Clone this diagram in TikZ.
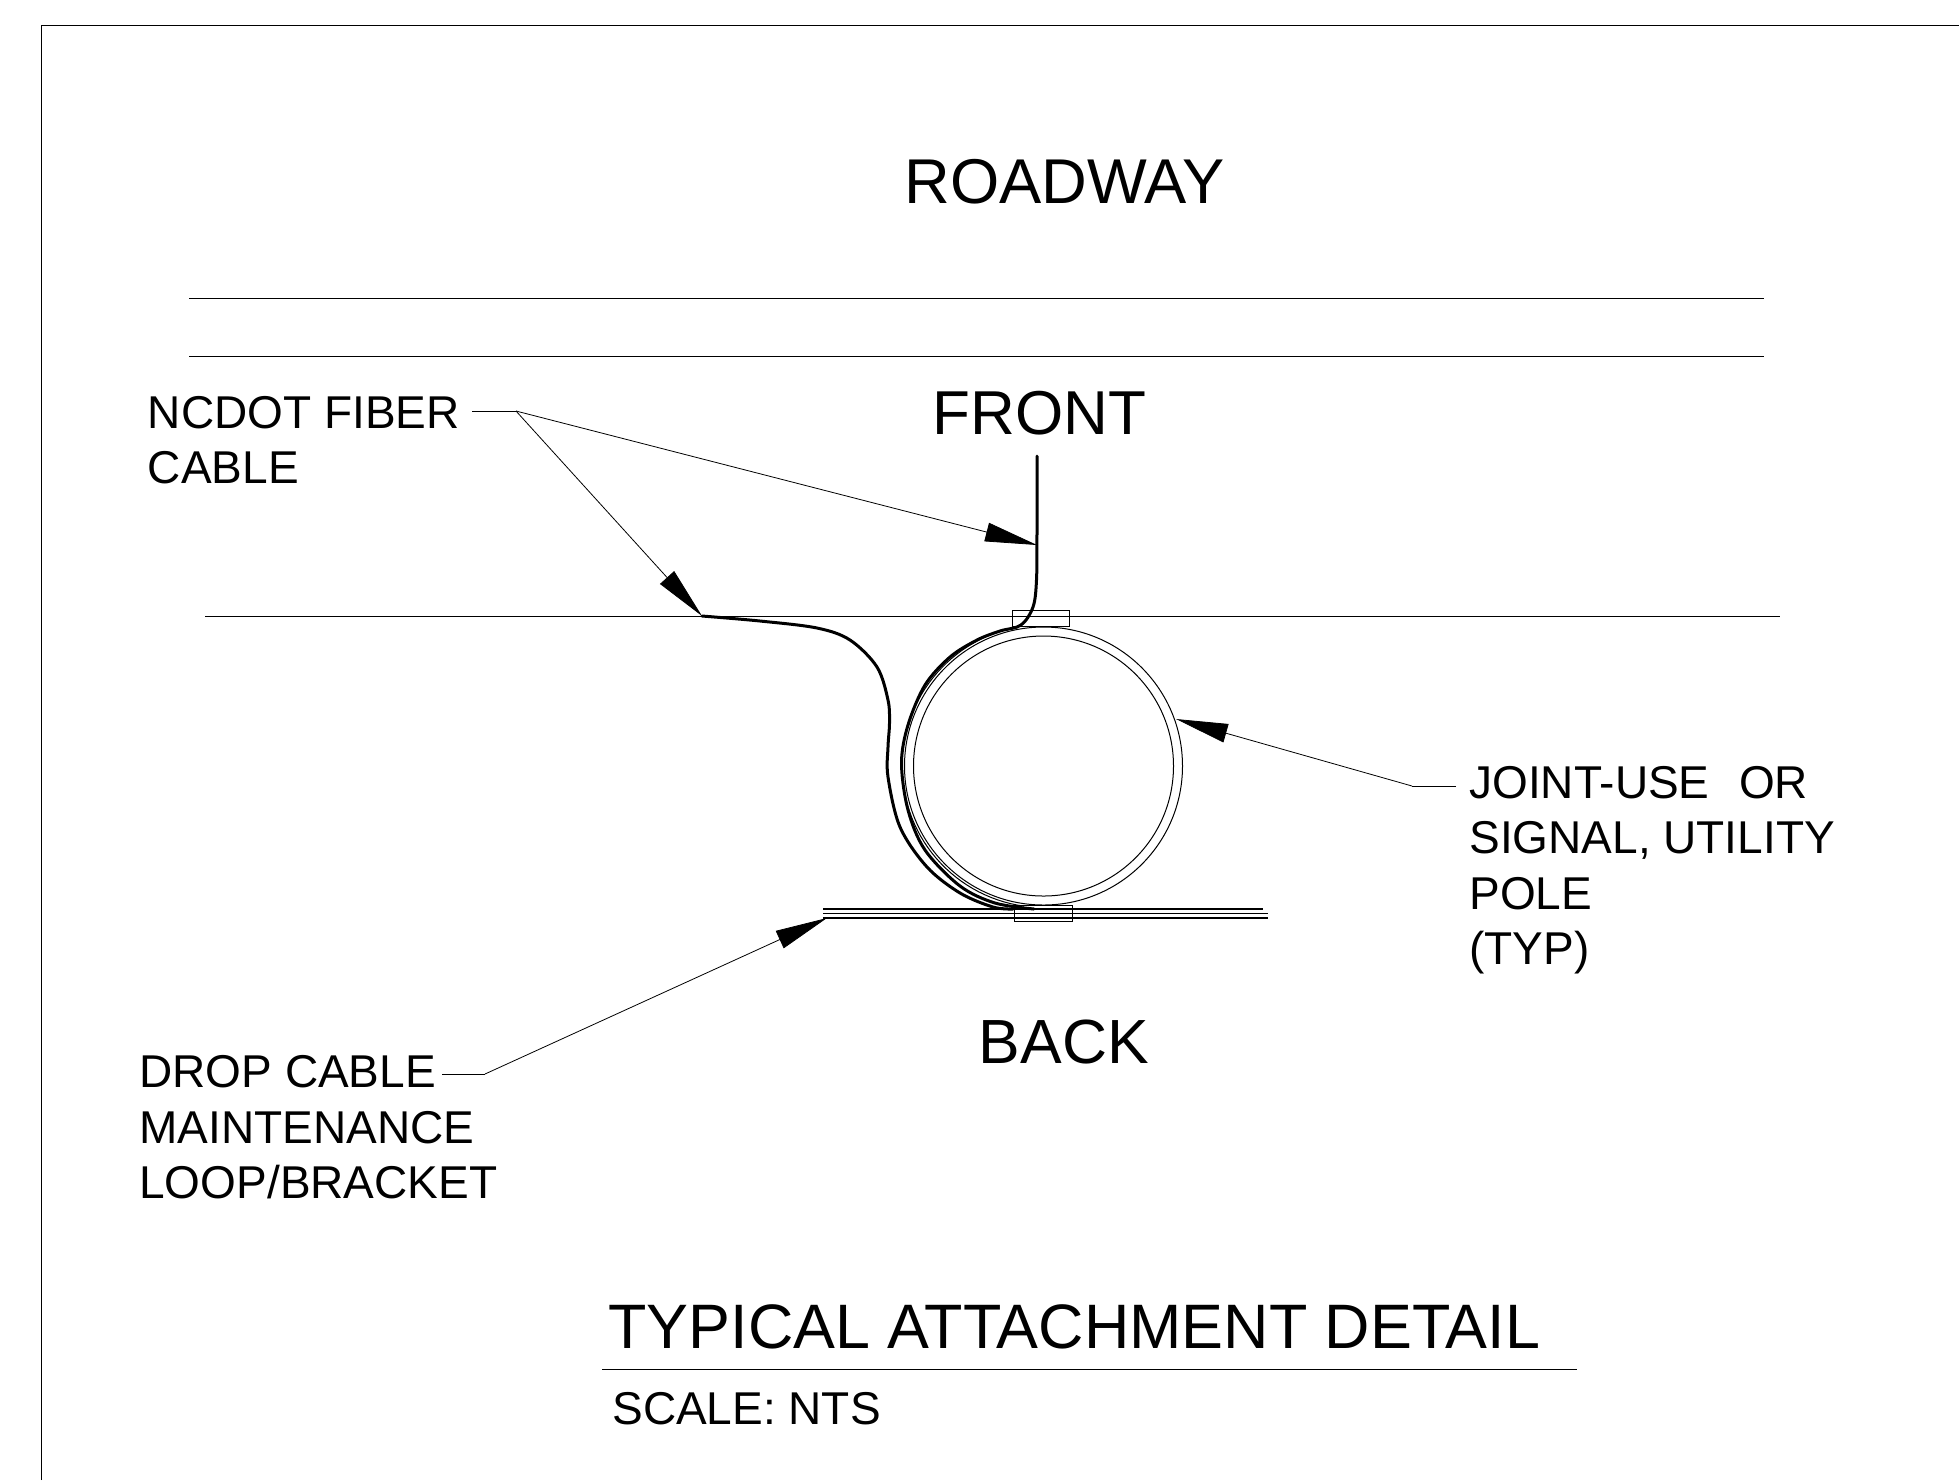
\documentclass[tikz,border=0pt]{standalone}
\usepackage{fontspec}
\setmainfont{Liberation Sans}
\usetikzlibrary{arrows.meta}
\tikzset{
  thinline/.style={draw=black,line width=0.5pt},
  roadline/.style={draw=black,line width=0.5pt},
  edgeline/.style={draw=black,line width=0.75pt},
  bracketline/.style={draw=black,line width=0.8pt},
  cableline/.style={draw=black,line width=1.5pt,line cap=round,line join=round},
  leader/.style={draw=black,line width=0.4pt,-{Triangle[length=26pt,width=9.5pt]}},
  callout/.style={anchor=north west,inner sep=0pt,align=left,font=\fontsize{23}{27.75}\selectfont},
  heading/.style={anchor=base west,inner sep=0pt,font=\fontsize{31}{36}\selectfont},
  backhead/.style={anchor=base west,inner sep=0pt,font=\fontsize{31.2}{36}\selectfont},
  roadhead/.style={anchor=base west,inner sep=0pt,font=\fontsize{31.65}{36}\selectfont},
  titletext/.style={anchor=base west,inner sep=0pt,font=\fontsize{31.4}{36}\selectfont},
  scaletext/.style={anchor=base west,inner sep=0pt,font=\fontsize{23}{27}\selectfont}
}
\begin{document}
\begin{tikzpicture}[x=0.5pt,y=-0.5pt]
\useasboundingbox (0,0) rectangle (1959,1480);
% sheet border
\draw[thinline] (41.5,1480) -- (41.5,25.5) -- (1959,25.5);
% road and edge lines
\draw[roadline] (189,298.5) -- (1764,298.5);
\draw[roadline] (189,356.5) -- (1764,356.5);
\draw[edgeline] (205,616.7) -- (1780,616.7);
% pole
\coordinate (polec) at (1043.5,766);
\draw[thinline] (polec) circle[x radius=139,y radius=-139];
\draw[thinline] (polec) circle[x radius=130,y radius=-130];
% brackets
\draw[thinline] (1012,610) rectangle (1069.7,626.7);
\draw[thinline] (1014.7,905) rectangle (1072,921.7);
% maintenance loop bracket
\draw[bracketline] (823,908.7) -- (1263,908.7);
\draw[bracketline] (823,913.3) -- (1268,913.3);
\draw[bracketline] (823,917.7) -- (1268,917.7);
% fibre cable
\draw[cableline] plot[smooth,tension=0.55] coordinates {
 (1037,456) (1037,530) (1036.5,580) (1033,607) (1021,625) (1000,631) (977,640) (950,657) (925,685)
 (908,725) (901.5,763) (908,810) (925,850) (960,886) (995,903) (1034,909)};
\draw[thinline] plot[domain=100:262,samples=60] ({1043.5+141.5*cos(\x)},{766-141.5*sin(\x)});
\draw[cableline] plot[smooth,tension=0.55] coordinates {
 (702,616) (760,621) (817,628) (850,640) (877,667) (888,700) (889.5,723) (888,747) (888,777)
 (900,827) (927,867) (960,893) (993,907) (1013,909)};
% texts
\node[roadhead] (road) at (904,203.5) {ROADWAY};
\node[heading] (front) at (932,434.5) {FRONT};
\node[backhead] (back) at (978.5,1063.5) {BACK};
\node[titletext] (title) at (608,1348) {TYPICAL ATTACHMENT DETAIL};
\node[scaletext] (scale) at (612,1424) {SCALE: NTS};
\node[callout] (ncdot) at (147.5,395.5) {NCDOT FIBER\\CABLE};
\node[callout] (drop) at (139,1055) {DROP CABLE\\MAINTENANCE\\LOOP/BRACKET};
\node[callout] (joint) at (1469,765.5) {JOINT-USE\ \ \kern2pt OR\\SIGNAL, UTILITY\\POLE\\(TYP)};
% title underline
\coordinate (ul) at (602,1369.5);
\coordinate (ur) at (1577,1369.5);
\draw[thinline] (ul) -- (ur);
% leaders
\coordinate (nk) at (516,411);
\coordinate (ns) at (472,411);
\coordinate (ntipa) at (1037,545);
\coordinate (ntipb) at (702,616);
\draw[thinline] (ns) -- (nk);
\draw[leader] (nk) -- (ntipa);
\draw[leader] (nk) -- (ntipb);
\coordinate (ds) at (442,1074);
\coordinate (dk) at (485,1074);
\coordinate (dtip) at (827,918);
\draw[thinline] (ds) -- (dk);
\draw[leader] (dk) -- (dtip);
\coordinate (js) at (1456,786);
\coordinate (jk) at (1412,786);
\coordinate (jtip) at (1176,719);
\draw[thinline] (js) -- (jk);
\draw[leader] (jk) -- (jtip);
\end{tikzpicture}
\end{document}
